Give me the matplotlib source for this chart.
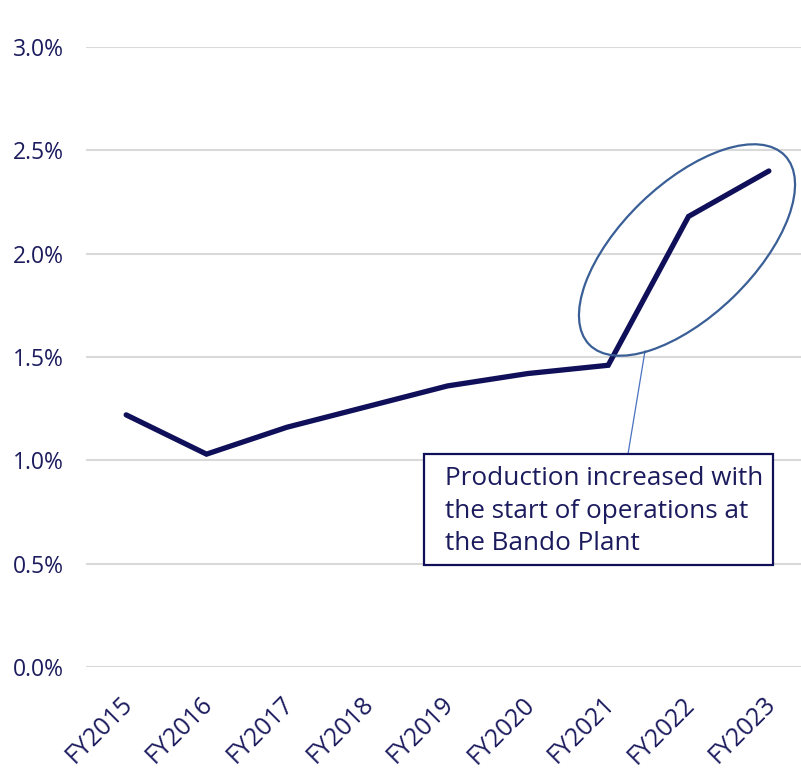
import matplotlib.pyplot as plt
import matplotlib.transforms as mtransforms
from matplotlib.patches import Ellipse

# production share by fiscal year (%)
years = ['FY2015', 'FY2016', 'FY2017', 'FY2018', 'FY2019',
         'FY2020', 'FY2021', 'FY2022', 'FY2023']
share = [1.22, 1.03, 1.16, 1.26, 1.36, 1.42, 1.46, 2.18, 2.40]
yticks = [0.0, 0.5, 1.0, 1.5, 2.0, 2.5, 3.0]
note = 'Production increased with\nthe start of operations at\nthe Bando Plant'

navy = '#10105a'
text_col = '#1b1b5e'

plt.rcParams['font.family'] = ['Open Sans', 'DejaVu Sans']

fig = plt.figure(figsize=(8.01, 7.70), dpi=100)
ax = fig.add_axes([86 / 801, 103 / 770, 715 / 801, 620 / 770])

x = list(range(len(years)))
ax.plot(x, share, color=navy, lw=3.8, solid_capstyle='round',
        solid_joinstyle='miter', zorder=3)

ax.set_xlim(-0.5, 8.4)
ax.set_ylim(0, 3.0)
ax.set_yticks(yticks)
ax.set_yticklabels([f'{v:.1f}%' for v in yticks])
ax.set_xticks(x)
ax.set_xticklabels(years, rotation=45, ha='right', va='top',
                   rotation_mode='anchor')
ax.grid(axis='y', color='#d9d9d9', lw=1.5)
ax.set_axisbelow(True)
for s in ax.spines.values():
    s.set_visible(False)
ax.tick_params(axis='y', length=0, labelsize=16.5, colors=text_col, pad=16)
ax.tick_params(axis='x', length=0, labelsize=17.8, colors=text_col, pad=18)

# nudge the rotated year labels slightly to the left
offset = mtransforms.ScaledTranslation(-6 / 100, 0, fig.dpi_scale_trans)
for lab in ax.get_xticklabels():
    lab.set_transform(lab.get_transform() + offset)

# ellipse around the FY2021-FY2023 jump (in inches from the figure corner)
ell = Ellipse((6.87, 5.20), 2.72, 1.32, angle=44, fill=False,
              edgecolor='#3a5f96', lw=1.6, transform=fig.dpi_scale_trans,
              zorder=4)
fig.add_artist(ell)

# connector from the ellipse down to the note
fig.add_artist(plt.Line2D([6.45, 6.28], [7.70 - 3.51, 7.70 - 4.54],
                          color='#4a72c0', lw=0.9,
                          transform=fig.dpi_scale_trans))

# note box
box = plt.Rectangle((4.24, 7.70 - 5.65), 3.49, 1.11, fill=True,
                    facecolor='white', edgecolor=navy, lw=1.6,
                    transform=fig.dpi_scale_trans, zorder=5)
fig.add_artist(box)
fig.text(4.45 / 8.01, (7.70 - 4.66) / 7.70, note, ha='left', va='top',
         fontsize=18.8, color=text_col, linespacing=1.4, zorder=6)

fig.savefig('out.png', dpi=100)
